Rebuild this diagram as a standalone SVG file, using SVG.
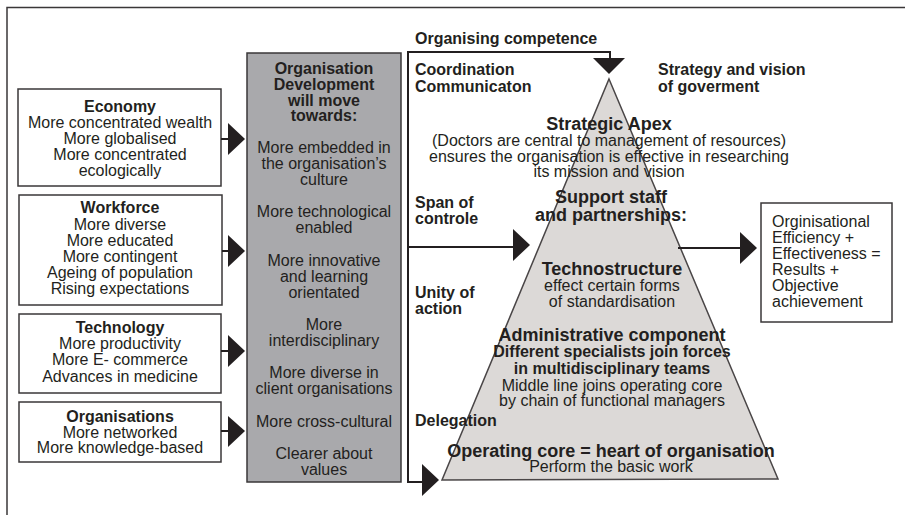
<svg xmlns="http://www.w3.org/2000/svg" width="905" height="515" viewBox="0 0 905 515">
<style>
text{font-family:"Liberation Sans",Arial,sans-serif;font-size:16px;fill:#231f20}
.b{font-weight:bold}
.c{text-anchor:middle}
.l18{font-size:18px}
.box{fill:#fff;stroke:#3a3738;stroke-width:1.5}
.ln{fill:none;stroke:#231f20;stroke-width:2}
.ah{fill:#231f20}
</style>
<rect width="905" height="515" fill="#fff"/>
<path d="M7 515 V7.5 H905" fill="none" stroke="#3a3738" stroke-width="1.5"/>

<g id="economy">
<rect class="box" x="18" y="89" width="203" height="97"/>
<text class="c b" x="120" y="112">Economy</text>
<text class="c" x="120" y="128">More concentrated wealth</text>
<text class="c" x="120" y="144">More globalised</text>
<text class="c" x="120" y="160">More concentrated</text>
<text class="c" x="120" y="176">ecologically</text>
</g>
<g id="workforce">
<rect class="box" x="19" y="195" width="203" height="110"/>
<text class="c b" x="120" y="213">Workforce</text>
<text class="c" x="120" y="230">More diverse</text>
<text class="c" x="120" y="246">More educated</text>
<text class="c" x="120" y="262">More contingent</text>
<text class="c" x="120" y="278">Ageing of population</text>
<text class="c" x="120" y="294">Rising expectations</text>
</g>
<g id="technology">
<rect class="box" x="19" y="314" width="202" height="79"/>
<text class="c b" x="120" y="333">Technology</text>
<text class="c" x="120" y="349">More productivity</text>
<text class="c" x="120" y="365">More E- commerce</text>
<text class="c" x="120" y="382">Advances in medicine</text>
</g>
<g id="organisations">
<rect class="box" x="19" y="402" width="202" height="60"/>
<text class="c b" x="120" y="422">Organisations</text>
<text class="c" x="120" y="438">More networked</text>
<text class="c" x="120" y="453">More knowledge-based</text>
</g>

<g id="od-column">
<rect x="247" y="53" width="154" height="429" fill="#a9a9ac" stroke="#3a3738" stroke-width="1.5"/>
<text class="c b" x="324" y="74">Organisation</text>
<text class="c b" x="324" y="90">Development</text>
<text class="c b" x="324" y="106">will move</text>
<text class="c b" x="324" y="121">towards:</text>
<text class="c" x="324" y="153">More embedded in</text>
<text class="c" x="324" y="169">the organisation’s</text>
<text class="c" x="324" y="185">culture</text>
<text class="c" x="324" y="217">More technological</text>
<text class="c" x="324" y="233">enabled</text>
<text class="c" x="324" y="266">More innovative</text>
<text class="c" x="324" y="282">and learning</text>
<text class="c" x="324" y="298">orientated</text>
<text class="c" x="324" y="330">More</text>
<text class="c" x="324" y="346">interdisciplinary</text>
<text class="c" x="324" y="378">More diverse in</text>
<text class="c" x="324" y="394">client organisations</text>
<text class="c" x="324" y="427">More cross-cultural</text>
<text class="c" x="324" y="459">Clearer about</text>
<text class="c" x="324" y="475">values</text>
</g>

<g id="pyramid">
<polygon points="609,79 778,479 442,480" fill="#dcd9d7" stroke="#4a4647" stroke-width="1.5"/>
<text class="c b l18" x="609" y="130">Strategic Apex</text>
<text class="c" x="609" y="146">(Doctors are central to management of resources)</text>
<text class="c" x="609" y="162">ensures the organisation is effective in researching</text>
<text class="c" x="609" y="177">its mission and vision</text>
<text class="c b l18" x="611" y="203">Support staff</text>
<text class="c b l18" x="611" y="221">and partnerships:</text>
<text class="c b l18" x="612" y="275">Technostructure</text>
<text class="c" x="612" y="291">effect certain forms</text>
<text class="c" x="612" y="307">of standardisation</text>
<text class="c b l18" x="612" y="341">Administrative component</text>
<text class="c b" x="612" y="357">Different specialists join forces</text>
<text class="c b" x="612" y="374">in multidisciplinary teams</text>
<text class="c" x="612" y="391">Middle line joins operating core</text>
<text class="c" x="612" y="406">by chain of functional managers</text>
<text class="c b l18" x="611" y="457">Operating core = heart of organisation</text>
<text class="c" x="611" y="472">Perform the basic work</text>
</g>

<g id="labels">
<text class="b" x="415" y="44">Organising competence</text>
<text class="b" x="415" y="75">Coordination</text>
<text class="b" x="415" y="92">Communicaton</text>
<text class="b" x="658" y="75">Strategy and vision</text>
<text class="b" x="658" y="92">of goverment</text>
<text class="b" x="415" y="208">Span of</text>
<text class="b" x="415" y="224">controle</text>
<text class="b" x="415" y="298">Unity of</text>
<text class="b" x="415" y="314">action</text>
<text class="b" x="415" y="426">Delegation</text>
</g>

<g id="result">
<rect class="box" x="761" y="203" width="131" height="119"/>
<text x="772" y="227">Orginisational</text>
<text x="772" y="243">Efficiency  +</text>
<text x="772" y="259">Effectiveness =</text>
<text x="772" y="275">Results +</text>
<text x="772" y="291">Objective</text>
<text x="772" y="307">achievement</text>
</g>

<g id="connectors">
<path class="ln" d="M221 139 H229"/><polygon class="ah" points="228,123 245,139 228,155"/>
<path class="ln" d="M222 251 H229"/><polygon class="ah" points="228,235 245,251 228,267"/>
<path class="ln" d="M221 351 H229"/><polygon class="ah" points="228,335 245,351 228,367"/>
<path class="ln" d="M221 431 H229"/><polygon class="ah" points="228,416 245,431 228,447"/>
<path class="ln" d="M610 59 V52 H408 V482 H423"/>
<polygon class="ah" points="593,58 625,58 609,74"/>
<polygon class="ah" points="422,464 439,480 422,496"/>
<path class="ln" d="M408 247 H514"/><polygon class="ah" points="513,229 530,245 513,261"/>
<path class="ln" d="M678 248 H741"/><polygon class="ah" points="740,232 757,248 740,264"/>
</g>
</svg>
